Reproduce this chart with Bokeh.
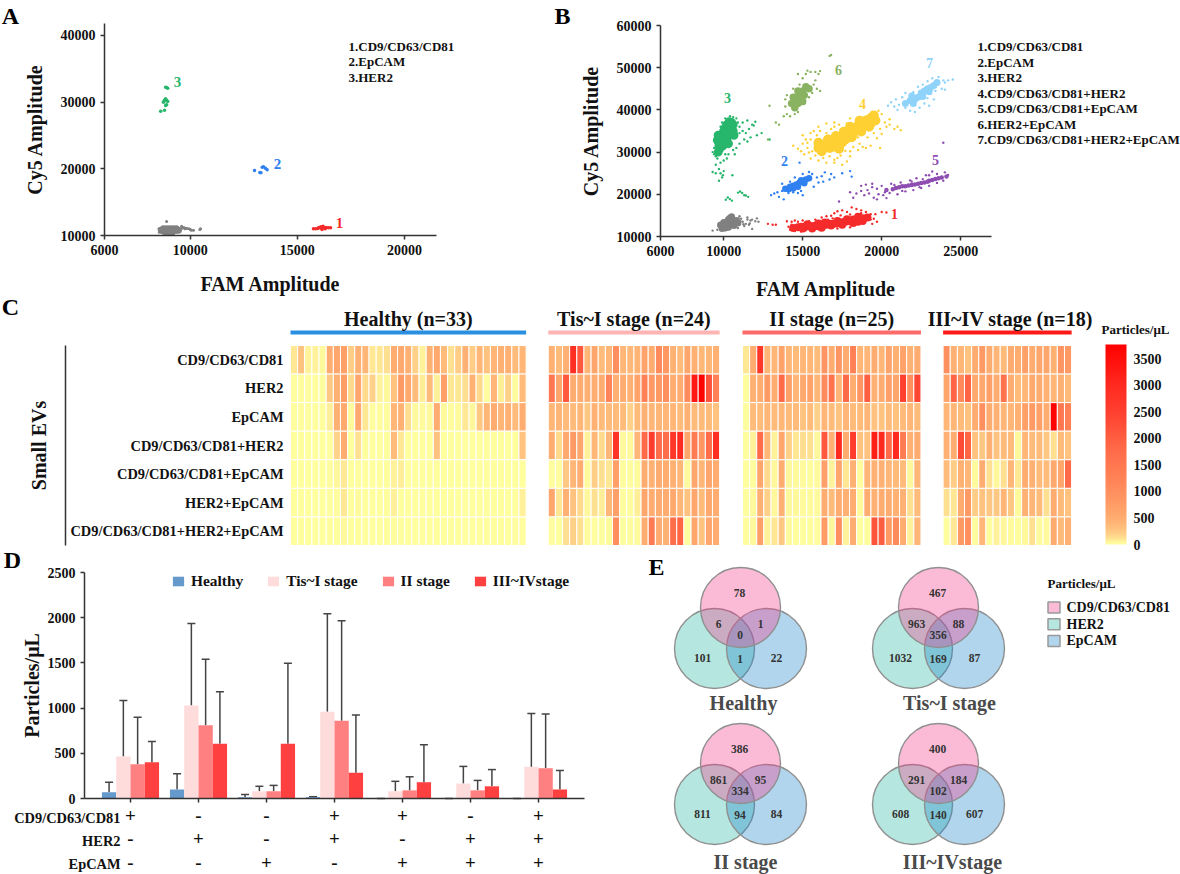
import math
from bokeh.embed import file_html
from bokeh.resources import INLINE
from bokeh.layouts import column, row
from bokeh.models import (ColumnDataSource, Range1d, FixedTicker, Label, Whisker, TeeHead,
                          LinearColorMapper, ColorBar)
from bokeh.plotting import figure

FONT = "Liberation Serif"

# ---------- Panel A values ----------
a_x_ticks = [6000, 10000, 15000, 20000]
a_y_ticks = [10000, 20000, 30000, 40000]
a_legend = ["1.CD9/CD63/CD81", "2.EpCAM", "3.HER2"]
a_green = [(8620,28650),(8800,28800),(8850,29500),(8900,29600),(8750,30000),(8800,30300),(8850,30500),(8900,30300),(8950,30100),(8800,30200),(8900,32200),(8950,32100),(8850,32250)]
a_blue = [(13000,19750),(13250,19450),(13360,20250),(13510,20100),(13590,19850),(13420,20300),(13300,19400)]
a_red = [(15750,11000),(15850,11000),(15950,11050),(16050,11150),(16100,11300),(16150,10900),(16200,11400),(16250,11150),(16300,11000),(16350,11200),(16450,11150),(16550,11150),(16000,11200),(16150,11100)]
a_gray_core = [(8650,10800),(8750,10700),(8850,10800),(8950,10700),(9050,10800),(9150,10700),(9250,10800),(9350,10800),(9450,10800),(8750,11000),(8900,11000),(9050,11000),(9200,11000),(9350,11000),(8850,10500),(9000,10500),(9150,10500)]
a_gray = [(8900,12100),(9600,11400),(9620,11100),(9700,11200),(9750,11000),(9800,11100),(9850,11050),(9950,11000),(10000,10900),(10050,10800),(10150,10800),(10480,11000),(10450,10900),(8560,10500),(8540,11000)]

# ---------- Panel B values ----------
b_x_ticks = [6000, 10000, 15000, 20000, 25000]
b_y_ticks = [10000, 20000, 30000, 40000, 50000, 60000]
b_legend = ["1.CD9/CD63/CD81", "2.EpCAM", "3.HER2", "4.CD9/CD63/CD81+HER2", "5.CD9/CD63/CD81+EpCAM", "6.HER2+EpCAM", "7.CD9/CD63/CD81+HER2+EpCAM"]
b_gray_core = [(9900,11900),(10000,12500),(10100,13000),(10200,13500),(10300,14000),(10400,14400),(10500,14000),(10600,13500),(10700,13200),(10400,13200),(10200,12500),(10000,13300),(10100,12000),(10500,14700),(10800,13800),(9800,12700),(10650,12600),(10300,12200),(10900,13200)]
b_gray = [(9300,11400),(9600,11600),(9700,12400),(9750,13000),(11000,13000),(11200,13500),(11400,13000),(11500,14500),(11700,13800),(11800,14000),(12000,13600),(12200,13500),(11600,12800),(11100,14200),(11800,11800),(11300,12500),(10900,12000),(11500,14000),(12100,14300),(11000,14800),(11250,12900),(11050,13600),(10950,14300),(11650,13100)]
b_red_core = [(14700,12200),(14900,12300),(15100,12300),(15300,12400),(15500,12400),(15700,12500),(15900,12500),(16100,12600),(16300,12700),(16500,12800),(16700,13000),(16900,13000),(17100,13100),(17300,13200),(17500,13400),(17700,13500),(17900,13600),(18100,13800),(18200,14000),(18500,14200),(18800,14300),(19100,14500),(15300,12900),(16000,13100),(16400,13300),(16800,12600),(17200,13700),(17500,12800),(17800,14100),(18200,13200),(18500,14700),(18800,13700),(14400,12000),(15000,11900),(15600,11900),(16200,12100),(18500,13500)]
b_red = [(12800,13000),(13100,12800),(13300,12800),(14000,13600),(14100,12300),(14200,11600),(14300,13500),(14500,13800),(14700,13500),(15000,13800),(15400,13600),(15800,14000),(16200,14500),(16500,14800),(16800,14900),(17000,15500),(17200,16000),(17500,16200),(17800,15800),(18100,16900),(18400,16500),(18700,16200),(19000,15800),(19300,15300),(19600,15300),(20000,15800),(20300,15700),(19500,14200),(19700,13500),(19400,13000),(14500,11300),(14900,11200),(16000,11700),(17200,11900),(18000,12200),(16900,14300),(17400,15000),(18000,15200),(18700,15500),(19300,14000),(14300,12800),(15200,11500),(15800,13400),(16600,14000)]
b_green_core = [(9650,30000),(9750,30800),(9700,31500),(9800,32000),(9950,31500),(9850,32800),(10000,32500),(9800,33500),(10000,33500),(10200,33000),(9900,34200),(10100,34000),(10300,34000),(10000,35000),(10200,34800),(10400,34500),(10100,35800),(10300,35500),(10500,35200),(10200,36500),(10400,36300),(10500,36000),(10350,37200),(10500,37000),(10600,36500),(10200,34000),(10000,34300),(9600,32800),(9650,34000),(10650,34000),(10600,35000),(10300,32000)]
b_green = [(9300,25300),(9500,25000),(9700,26000),(9800,25000),(9950,24500),(10000,25500),(9900,24000),(9700,23200),(10550,24500),(9500,27000),(9800,27500),(10000,28000),(10200,28500),(9600,28500),(9500,29000),(10300,29500),(10100,29500),(11000,36000),(11200,35000),(11400,34500),(11600,35500),(11800,36500),(12000,37200),(11200,37000),(11500,37500),(11900,36300),(11300,33000),(11500,32500),(11700,33500),(12100,34000),(12400,34500),(12900,33000),(11000,32000),(10800,31000),(10600,30500),(10700,29500),(9400,31000),(9300,30000),(9400,29500),(9500,33000),(9600,34500),(9800,36000),(9900,37000),(10100,38000),(10400,38500),(10600,38300),(10800,38000),(10900,37000),(11000,34500),(10390,18860),(10260,19250),(10520,18500),(10130,18700),(11040,20650),(11170,20300),(10910,20400),(11300,19800),(11550,19400),(11400,19700)]
b_yellow_core = [(16000,31000),(16300,31200),(16500,32000),(16800,32000),(16700,31000),(17000,32800),(17300,33000),(17200,32000),(17500,33800),(17800,34200),(17700,33000),(18000,35000),(18300,35500),(18200,34500),(18500,36200),(18800,36800),(18700,35800),(19000,37500),(19300,38000),(19200,37000),(19500,38700),(16200,30200),(17000,31300),(17500,32300),(17600,34800),(18000,36000),(18600,37400),(16600,33000),(17100,33800),(18100,33500),(18700,34900),(19200,36000),(19600,37500),(17300,30800),(16000,32200)]
b_yellow = [(14400,31500),(14700,30800),(15000,32000),(15200,33000),(15300,31000),(15500,34500),(15700,35000),(15100,29500),(15500,28500),(16000,28000),(16500,27500),(17000,27500),(17500,27000),(17800,27800),(18000,29000),(18500,30500),(19000,31000),(19300,31500),(19900,31000),(20200,37000),(20500,36500),(20800,35500),(21000,36000),(21200,35200),(20000,39000),(20500,37800),(16000,36000),(16500,36800),(17000,37000),(17300,36500),(16800,35500),(15900,34000),(14900,30200),(15400,29900),(16200,29300),(16700,29000),(17400,29200),(18200,31200),(18600,32000),(19100,33500),(19500,34500),(19900,35500),(20300,36000),(15000,34000),(15500,33000),(16500,34500),(17000,36000),(17800,36800),(18000,38000),(19800,39800),(19500,36200),(18500,33500),(18100,32800),(17700,30300),(17200,28600),(15600,30200),(15800,29200),(16300,28600),(17000,28200),(18000,30200),(18800,31200),(19700,33300),(20000,34300),(15300,32200),(16100,35000)]
b_blue_core = [(13900,21300),(14200,21800),(14400,22000),(14100,21200),(14600,22300),(14800,22800),(15000,23000),(15200,23500),(15400,23800),(14700,21800),(15100,22600),(14400,21400),(14900,23300)]
b_blue = [(13000,19800),(13200,20200),(13400,20500),(13500,19400),(13700,20800),(13800,18800),(14100,20300),(14400,20500),(14700,20300),(14900,20800),(15000,19800),(14800,27500),(14200,23000),(14500,24000),(15000,24800),(15400,25300),(15600,24800),(15900,24000),(16000,22800),(16200,24300),(16400,25200),(16700,23500),(16800,24800),(17000,24000),(17500,25000),(18000,25500),(18100,24200),(16300,23000),(13700,22500),(15700,21800)]
b_purple_core = [(20300,21000),(20700,21200),(21100,21700),(21500,21900),(21900,22200),(22300,22500),(22700,22800),(23000,23200),(23400,23600),(23800,24000),(24100,24200),(20900,21500),(21300,21900),(21700,22100),(22100,22300),(22500,22700),(22900,23000),(23200,23400),(23600,23800)]
b_purple = [(17300,18300),(18000,20500),(18400,20200),(18700,20800),(18900,19800),(19100,21000),(19200,20200),(19500,19200),(19700,18800),(19800,20000),(19400,21700),(19400,22500),(20000,22000),(20100,19800),(20300,19100),(20600,22500),(21000,20000),(21200,22800),(21500,20700),(21800,23300),(22000,21000),(22200,23800),(22500,21500),(22800,24500),(23000,22000),(23200,25400),(23500,22700),(24000,25200),(24200,24600),(23900,32200),(18200,19200),(18700,22000),(19000,22300),(20500,20300),(21300,20800),(21900,23000),(22600,23600),(23000,24500),(23500,24800),(23900,23200),(20800,22200),(22400,21700),(19700,21300),(20200,20500)]
b_olive_core = [(14300,41500),(14500,42000),(14600,43000),(14800,43500),(14700,41500),(15000,44500),(15200,45500),(14900,42500),(15100,43500),(14500,40500),(15400,45000),(14400,43000),(14700,44500),(15000,42000)]
b_olive = [(13300,37000),(13500,36500),(12800,33000),(12900,41000),(13800,38500),(14000,39000),(14200,38500),(14500,39000),(14700,39500),(13900,40800),(13900,42500),(14000,43500),(14400,45000),(14800,46000),(15000,47500),(15200,48500),(15300,49300),(15500,49000),(15800,49000),(16000,48500),(15800,47000),(15700,46000),(15900,45000),(16100,44500),(15600,44000),(15400,43000),(15100,41500),(14700,48500),(16800,53000),(16700,52800),(16100,49200)]
b_sky_core = [(21500,41500),(21800,42200),(22100,42500),(22300,43000),(22500,44000),(22700,44500),(22900,45000),(23100,45300),(23300,45800),(23500,46500),(22000,41500),(21900,43300),(22600,43200),(23000,44300)]
b_sky = [(20400,41000),(20600,41800),(20900,42500),(21100,41200),(21300,43000),(21500,40500),(21800,39800),(22100,39500),(22400,40500),(22700,41500),(22900,42800),(23100,43800),(23400,44500),(23800,45000),(24000,46500),(24200,47000),(24500,47200),(21500,44000),(22000,44200),(22300,45500),(22600,46000),(22900,46800),(23200,47500),(23600,47800),(23900,47000),(24000,44800),(20800,40800),(23000,41000),(23300,42500),(21000,40000)]

# ---------- Panel C values ----------
rows_c = ["CD9/CD63/CD81", "HER2", "EpCAM", "CD9/CD63/CD81+HER2", "CD9/CD63/CD81+EpCAM", "HER2+EpCAM", "CD9/CD63/CD81+HER2+EpCAM"]
groups_c = ["Healthy (n=33)", "Tis~I stage (n=24)", "II stage (n=25)", "III~IV stage (n=18)"]
healthy_cells = [
 [100,300,60,60,40,500,600,700,220,450,400,100,100,120,500,550,450,200,60,450,550,350,120,220,450,220,400,300,400,450,450,350,400],
 [20,20,20,20,10,250,450,750,150,600,150,200,60,40,300,800,550,350,80,350,60,700,100,100,130,450,150,20,400,80,200,20,350],
 [10,20,10,10,10,80,450,550,30,550,100,20,20,20,400,450,130,40,30,40,500,30,20,30,100,50,250,400,500,400,450,350,500],
 [0,0,0,0,0,0,180,500,0,120,0,0,0,0,350,100,0,0,0,0,300,0,0,0,0,0,0,0,0,0,0,0,300],
 [5,5,5,5,5,20,50,90,5,20,5,5,5,5,60,80,5,5,5,5,5,5,5,5,5,5,5,5,5,5,5,5,5],
 [5,5,5,5,5,5,20,100,5,30,5,5,5,5,70,5,5,5,5,5,5,5,5,5,5,5,5,5,5,5,5,5,70],
 [0,0,0,0,0,0,5,40,5,0,0,5,0,0,20,20,0,0,0,0,0,0,0,0,0,0,0,0,0,0,0,15,20],
]
tis_cells = [
 [450,350,450,2900,2100,400,600,350,400,1000,400,380,420,650,500,1100,850,450,350,600,450,380,400,450],
 [1500,600,2100,500,500,450,500,500,1200,450,500,450,650,1300,800,800,1000,500,500,1100,3300,3700,2200,1300],
 [400,400,350,350,400,250,450,350,350,350,350,200,350,450,400,400,400,400,350,450,350,350,350,300],
 [500,150,550,800,600,60,400,150,400,2800,40,40,400,1800,2600,1700,1700,2700,3000,600,1400,900,1700,2900],
 [20,20,250,400,500,30,220,120,100,700,20,20,30,500,450,500,500,450,400,30,600,400,600,500],
 [600,100,450,300,150,50,120,80,400,700,10,20,80,600,500,500,500,550,400,300,600,350,550,500],
 [20,0,120,200,120,30,20,10,30,1000,10,10,30,500,1400,500,450,1700,1900,10,600,300,600,500],
]
ii_cells = [
 [100,500,2700,400,400,650,400,350,400,400,350,900,500,900,500,1300,400,400,500,400,650,450,650,450,500],
 [20,450,500,800,500,1800,700,400,550,650,400,1100,1600,400,1800,500,900,2000,450,500,700,600,2500,1000,2400],
 [10,350,350,400,350,400,350,350,300,350,200,400,350,300,400,350,350,400,300,300,350,300,350,400,350],
 [10,60,1800,400,60,600,200,100,130,120,50,2100,450,3000,500,2600,300,300,3200,3000,1800,3000,1400,450,500],
 [0,20,600,150,50,500,50,30,30,20,30,700,60,600,100,450,20,400,450,450,400,350,350,50,400],
 [10,40,450,200,50,450,50,40,30,30,30,500,350,500,450,500,30,500,450,500,500,450,450,120,350],
 [20,40,700,60,100,250,30,20,10,10,20,800,50,1000,60,500,10,20,2200,2000,800,1100,500,60,400],
]
iii_cells = [
 [1000,450,400,300,500,800,500,400,350,500,500,700,500,600,600,450,900,800],
 [600,1900,1100,1900,550,550,700,500,1600,500,350,400,550,500,450,400,450,350],
 [400,400,350,300,500,1000,500,450,400,400,450,700,800,700,500,3700,1500,1300],
 [450,500,2300,1900,300,250,450,300,350,350,50,400,350,350,250,120,350,300],
 [350,220,450,400,30,500,120,50,120,400,100,500,450,350,350,550,600,1800],
 [120,100,500,800,220,300,250,250,400,250,30,450,400,350,120,500,350,300],
 [20,100,800,1000,20,400,20,60,50,30,10,40,120,30,30,500,350,450],
]
cbar_ticks = [0, 500, 1000, 1500, 2000, 2500, 3000, 3500]

# ---------- Panel D values ----------
sign_rows = ["CD9/CD63/CD81", "HER2", "EpCAM"]
cd9_signs = ["+", "-", "-", "+", "+", "-", "+"]
her2_signs = ["-", "+", "-", "+", "-", "+", "+"]
epcam_signs = ["-", "-", "+", "-", "+", "+", "+"]
stages = ["Healthy", "Tis~I stage", "II stage", "III~IVstage"]
healthy_mean = [70, 100, 15, 15, 0, 0, 0]
healthy_top = [180, 275, 45, 20, 0, 0, 0]
tis_mean = [465, 1030, 80, 960, 80, 165, 350]
tis_top = [1085, 1935, 135, 2045, 190, 355, 940]
ii_mean = [380, 810, 80, 860, 90, 90, 335]
ii_top = [900, 1540, 145, 1965, 240, 200, 935]
iii_mean = [400, 605, 605, 285, 180, 135, 100]
iii_top = [630, 1180, 1495, 925, 595, 320, 310]

# ---------- Panel E values ----------
venn_titles = ["Healthy", "Tis~I stage", "II stage", "III~IVstage"]
venn_healthy = [78, 6, 1, 0, 101, 1, 22]
venn_tis = [467, 963, 88, 356, 1032, 169, 87]
venn_ii = [386, 861, 95, 334, 811, 94, 84]
venn_iii = [400, 291, 184, 102, 608, 140, 607]
venn_sets = ["CD9/CD63/CD81", "HER2", "EpCAM"]

# ---------- helpers ----------
def style_axis(ax, size="14px"):
    ax.axis_line_color = "#333333"
    ax.axis_line_width = 1.5
    ax.major_tick_line_color = "#333333"
    ax.major_tick_line_width = 1.5
    ax.major_tick_in = 0
    ax.major_tick_out = 4
    ax.minor_tick_line_color = None
    ax.major_label_text_font = FONT
    ax.major_label_text_font_style = "bold"
    ax.major_label_text_font_size = size
    ax.major_label_text_color = "#111111"
    ax.axis_label_text_font = FONT
    ax.axis_label_text_font_style = "bold"
    ax.axis_label_text_color = "#111111"
    ax.axis_label_text_font_size = "20px"


def bare(fig):
    fig.outline_line_color = None
    fig.grid.visible = False
    fig.background_fill_color = None
    fig.border_fill_color = None


def txt(fig, frame, px, py, s, size=13, color="#111111", align="left", angle=0):
    # frame = (left edge, bottom edge) of the figure in page pixels
    fig.add_layout(Label(x=px - frame[0], y=frame[1] - py, x_units="screen", y_units="screen",
                         text=s, text_font=FONT, text_font_style="bold",
                         text_font_size=f"{size}px", text_color=color, text_align=align,
                         text_baseline="middle", angle=angle))


def dots(fig, pts, color, size):
    fig.scatter([p[0] for p in pts], [p[1] for p in pts], size=size, color=color,
                line_color=None, marker="circle")


NOBORDER = dict(min_border_left=0, min_border_right=0, min_border_top=0, min_border_bottom=0)
RED, BLUE, GREEN, GRAY, YELLOW, PURPLE, OLIVE, SKY = ("#F52B2B", "#2F80F0", "#27B66B", "#808080",
                                                    "#FFD033", "#8E4DB0", "#8AB361", "#8FD3FA")

# ---------- Panel A ----------
ax_l, ax_r, ay_t, ay_b = 104, 436, 23, 235
A_W, A_H = 545, 300
KX_A, KY_A = 0.02143, 0.006667
frame_a = (0, A_H)
pa = figure(width=A_W, height=A_H, output_backend="svg", toolbar_location=None,
            x_range=Range1d(6000 - ax_l / KX_A, 6000 + (A_W - ax_l) / KX_A),
            y_range=Range1d(10000 - (A_H - ay_b) / KY_A, 10000 + ay_b / KY_A), **NOBORDER)
bare(pa)
pa.xaxis.ticker = FixedTicker(ticks=a_x_ticks)
pa.yaxis.ticker = FixedTicker(ticks=a_y_ticks)
style_axis(pa.xaxis[0]); style_axis(pa.yaxis[0])
pa.xaxis.fixed_location = 10000
pa.yaxis.fixed_location = 6000
pa.xaxis.bounds = (6000, 6000 + (ax_r - ax_l) / KX_A)
pa.yaxis.bounds = (10000, 10000 + (ay_b - ay_t) / KY_A)
pa.xaxis.axis_label = "FAM Amplitude"
pa.yaxis.axis_label = "Cy5 Amplitude"
pa.xaxis.major_label_standoff = 5
pa.xaxis.axis_label_standoff = 15
pa.yaxis.axis_label_standoff = 12
dots(pa, a_gray_core, GRAY, 7)
dots(pa, a_gray, GRAY, 3)
dots(pa, a_green, GREEN, 3.5)
dots(pa, a_blue, BLUE, 3.5)
dots(pa, a_red, RED, 3.5)
for i, s in enumerate(a_legend):
    txt(pa, frame_a, 348, 45.5 + 15.5 * i, s)
txt(pa, frame_a, 177, 81, "3", 15, GREEN, "center")
txt(pa, frame_a, 277, 163, "2", 15, BLUE, "center")
txt(pa, frame_a, 339, 222, "1", 15, RED, "center")
txt(pa, frame_a, 10, 15, "A", 24, "#000000", "center")

# ---------- Panel B ----------
bx_l, bx_r, by_t, by_b = 660, 991, 25, 236
B_X, B_W, B_H = 545, 635, 300
KX_B, KY_B = 0.0158, (by_b - by_t) / 50000
frame_b = (B_X, B_H)
pb = figure(width=B_W, height=B_H, output_backend="svg", toolbar_location=None,
            x_range=Range1d(6000 - (bx_l - B_X) / KX_B, 6000 + (B_X + B_W - bx_l) / KX_B),
            y_range=Range1d(10000 - (B_H - by_b) / KY_B, 10000 + by_b / KY_B), **NOBORDER)
bare(pb)
pb.xaxis.ticker = FixedTicker(ticks=b_x_ticks)
pb.yaxis.ticker = FixedTicker(ticks=b_y_ticks)
style_axis(pb.xaxis[0]); style_axis(pb.yaxis[0])
pb.xaxis.fixed_location = 10000
pb.yaxis.fixed_location = 6000
pb.xaxis.bounds = (6000, 6000 + (bx_r - bx_l) / KX_B)
pb.yaxis.bounds = (10000, 60000)
pb.xaxis.axis_label = "FAM Amplitude"
pb.yaxis.axis_label = "Cy5 Amplitude"
pb.xaxis.major_label_standoff = 5
pb.xaxis.axis_label_standoff = 19
pb.yaxis.axis_label_standoff = 12
for core, stray, col, sz in [(b_gray_core, b_gray, GRAY, 7), (b_red_core, b_red, RED, 8),
                             (b_green_core, b_green, GREEN, 9), (b_yellow_core, b_yellow, YELLOW, 10),
                             (b_blue_core, b_blue, BLUE, 6.5), (b_purple_core, b_purple, PURPLE, 4.5),
                             (b_olive_core, b_olive, OLIVE, 7.5), (b_sky_core, b_sky, SKY, 7)]:
    dots(pb, stray, col, 2.4)
    dots(pb, core, col, sz)
for i, s in enumerate(b_legend):
    txt(pb, frame_b, 977, 46 + 15.55 * i, s, 13)
txt(pb, frame_b, 727, 97, "3", 14, GREEN, "center")
txt(pb, frame_b, 784, 160, "2", 14, BLUE, "center")
txt(pb, frame_b, 894, 213, "1", 14, RED, "center")
txt(pb, frame_b, 862, 103, "4", 14, YELLOW, "center")
txt(pb, frame_b, 935, 159, "5", 14, PURPLE, "center")
txt(pb, frame_b, 838, 69, "6", 14, OLIVE, "center")
txt(pb, frame_b, 929, 62, "7", 14, SKY, "center")
txt(pb, frame_b, 562, 15, "B", 24, "#000000", "center")

# ---------- Panel C ----------
CELL = 7.14
ROW = 200 / 7
X0, Y0 = 290, 545
C_TOP, C_BOT = 290, 556
frame_c = (0, C_BOT)
conv_c = lambda px, py: ((px - X0) / CELL, -0.5 + (Y0 - py) / ROW)
pc = figure(width=1180, height=C_BOT - C_TOP, output_backend="svg", toolbar_location=None,
            x_range=Range1d(-X0 / CELL, (1180 - X0) / CELL),
            y_range=Range1d(-0.5 + (Y0 - C_BOT) / ROW, -0.5 + (Y0 - C_TOP) / ROW),
            margin=(C_TOP - A_H, 0, 0, 0), **NOBORDER)
bare(pc)
pc.xaxis.visible = False
anchors = [(0, (255, 255, 158)), (30, (255, 251, 156)), (60, (255, 242, 154)), (120, (255, 223, 144)),
           (220, (255, 204, 133)), (350, (255, 187, 122)), (500, (255, 172, 112)), (800, (255, 154, 101)),
           (1200, (255, 133, 88)), (1800, (255, 106, 72)), (2500, (255, 64, 48)), (3000, (255, 42, 32)),
           (3764, (255, 0, 0))]


def shade(v):
    for (a, ca), (b, cb) in zip(anchors, anchors[1:]):
        if v <= b:
            t = (v - a) / (b - a)
            return "#%02X%02X%02X" % tuple(round(p + (q - p) * t) for p, q in zip(ca, cb))
    return "#FF0000"


palette = [shade(3764 * i / 511) for i in range(512)]
mapper = LinearColorMapper(palette=palette, low=0, high=3764)
offsets = [0, 36.1, 63.3, 91.4]
tables = [healthy_cells, tis_cells, ii_cells, iii_cells]
bar_colors = ["#2A8FE0", "#FFB4B4", "#FF6B6B", "#FF1A1A"]
title_shift = [0, 0, 0, 0.4]
cx, cy, cv = [], [], []
for off, table in zip(offsets, tables):
    for r, vals in enumerate(table):
        for c, v in enumerate(vals):
            cx.append(off + c + 0.5)
            cy.append(6 - r)
            cv.append(v)
pc.rect("x", "y", width=1, height=1, source=ColumnDataSource(dict(x=cx, y=cy, v=cv)),
        fill_color={"field": "v", "transform": mapper}, line_color="#FFFFFF", line_width=1)
head_y = conv_c(0, 332)[1]
title_y = conv_c(0, 318)[1]
for off, table, col, name, sh in zip(offsets, tables, bar_colors, groups_c, title_shift):
    n = len(table[0])
    pc.rect([off + n / 2], [head_y], width=n, height=4 / ROW, color=col, line_color=None)
    pc.text([off + n / 2 + sh], [title_y], text=[name], text_font=FONT, text_font_style="bold",
            text_font_size="20px", text_color="#111111", text_align="center", text_baseline="middle")
pc.yaxis.ticker = FixedTicker(ticks=list(range(7)))
pc.yaxis.major_label_overrides = {6 - i: s for i, s in enumerate(rows_c)}
pc.yaxis.fixed_location = 0
style_axis(pc.yaxis[0], "14.4px")
pc.yaxis.axis_line_color = None
pc.yaxis.major_tick_line_color = None
pc.yaxis.major_tick_out = 0
pc.yaxis.major_label_standoff = 7
xr, _ = conv_c(65, 0)
pc.segment([xr], [-0.5], [xr], [6.5], line_color="#333333", line_width=1.5)
txt(pc, frame_c, 38, 445, "Small EVs", 20, "#111111", "center", math.pi / 2)
txt(pc, frame_c, 1135, 329, "Particles/μL", 13, "#111111", "center")
txt(pc, frame_c, 10, 306, "C", 24, "#000000", "center")
cb = ColorBar(color_mapper=mapper, ticker=FixedTicker(ticks=cbar_ticks), location=(1105, C_BOT - 544),
              width=21, height=200, padding=0, margin=0, background_fill_color=None,
              major_tick_line_color=None, minor_tick_line_color=None, bar_line_color=None,
              border_line_color=None, label_standoff=7, major_label_text_font=FONT,
              major_label_text_font_style="bold", major_label_text_font_size="14px",
              major_label_text_color="#111111")
pc.add_layout(cb)

# ---------- Panel D with its sign table ----------
GROUP = 68
KY_D = 226 / 2500
dx_l, dx_r, dy_b = 84, 584, 798
D_TOP, D_BOT, D_W = 544, 874, 610
frame_d = (0, D_BOT)
conv_d = lambda px, py: ((px - 130) / GROUP, (dy_b - py) / KY_D)
pd_ = figure(width=D_W, height=D_BOT - D_TOP, output_backend="svg", toolbar_location=None,
             x_range=Range1d(-130 / GROUP, (D_W - 130) / GROUP),
             y_range=Range1d((dy_b - D_BOT) / KY_D, (dy_b - D_TOP) / KY_D), **NOBORDER)
bare(pd_)
pd_.xaxis.ticker = FixedTicker(ticks=list(range(7)))
pd_.yaxis.ticker = FixedTicker(ticks=[0, 500, 1000, 1500, 2000, 2500])
style_axis(pd_.xaxis[0]); style_axis(pd_.yaxis[0])
pd_.xaxis.fixed_location = 0
pd_.yaxis.fixed_location = (dx_l - 130) / GROUP
pd_.xaxis.bounds = ((dx_l - 130) / GROUP, (dx_r - 130) / GROUP)
pd_.yaxis.bounds = (0, 2500)
pd_.xaxis.major_label_overrides = {i: "" for i in range(7)}
pd_.xaxis.major_label_standoff = 0
pd_.xaxis.major_label_text_font_size = "1px"
pd_.yaxis.axis_label = "Particles/μL"
pd_.yaxis.axis_label_standoff = 2
series = [(healthy_mean, healthy_top, "#6699CC", -0.315), (tis_mean, tis_top, "#FFDCDC", -0.105),
          (ii_mean, ii_top, "#FF8080", 0.105), (iii_mean, iii_top, "#FF4040", 0.315)]
for (mean, top, col, shift), name in zip(series, stages):
    src = ColumnDataSource(dict(x=[i + shift for i in range(7)], mean=mean, top=top))
    pd_.vbar(x="x", top="mean", bottom=0, width=0.21, source=src, color=col, line_color=None,
             legend_label=name)
    pd_.add_layout(Whisker(base="x", upper="top", lower="mean", source=src,
                           upper_head=TeeHead(size=8, line_color="#444444", line_width=1.5),
                           lower_head=None, line_color="#444444", line_width=1.5))
lg = pd_.legend[0]
lg.orientation = "horizontal"
lg.location = (171, 284)
lg.padding = 0
lg.margin = 0
lg.spacing = 23
lg.label_standoff = 6
lg.glyph_width = 14
lg.glyph_height = 12
lg.background_fill_alpha = 0
lg.border_line_color = None
lg.label_text_font = FONT
lg.label_text_font_style = "bold"
lg.label_text_font_size = "15.4px"
lg.label_text_color = "#111111"
txt(pd_, frame_d, 12, 559, "D", 24, "#000000", "center")
for level_y, label_y, name, signs in zip([815, 838, 862], [817, 840, 863], sign_rows,
                                         [cd9_signs, her2_signs, epcam_signs]):
    pd_.text(list(range(7)), [conv_d(0, level_y)[1]] * 7, text=signs, text_font=FONT, text_font_style="bold",
             text_font_size="19px", text_color="#111111", text_align="center", text_baseline="middle")
    txt(pd_, frame_d, 120, label_y, name, 14.4, "#111111", "right")

# ---------- Panel E ----------
pe = figure(width=570, height=D_BOT - D_TOP, output_backend="svg", toolbar_location=None,
            x_range=Range1d(610, 1180), y_range=Range1d(874, D_TOP), **NOBORDER)
bare(pe)
pe.axis.visible = False
centers = [(740, 607), (938, 607), (740, 763), (938, 763)]
title_pos = [(743, 702), (949, 702), (745, 861), (952, 861)]
offs_x = [-1, -22, 20, -0.5, -38, -0.5, 36]
offs_y = [-15, 16, 16, 27, 50, 51, 50]
C_PINK, C_GREEN, C_BLUE = "#F33C8C", "#2BB7A3", "#1D87C8"
for (cxx, cyy), vals, tt, tp in zip(centers, [venn_healthy, venn_tis, venn_ii, venn_iii], venn_titles, title_pos):
    for dx, dy, col in [(-26, 41, C_GREEN), (26, 41, C_BLUE), (0, 0, C_PINK)]:
        pe.circle([cxx + dx], [cyy + dy], radius=40, fill_color=col, fill_alpha=0.35,
                  line_color="#909090", line_width=1.4)
    pe.text([cxx + a for a in offs_x], [cyy + b for b in offs_y], text=[str(v) for v in vals],
            text_font=FONT, text_font_style="bold", text_font_size="11.5px", text_color="#333333",
            text_align="center", text_baseline="middle")
    pe.text([tp[0]], [tp[1]], text=[tt], text_font=FONT, text_font_style="bold", text_font_size="20px",
            text_color="#4A4A4A", text_align="center", text_baseline="middle")
for i, (s, col) in enumerate(zip(venn_sets, [C_PINK, C_GREEN, C_BLUE])):
    y = 607 + 16.7 * i
    pe.rect([1053.5], [y], width=12, height=11, fill_color=col, fill_alpha=0.35, line_color="#999999", line_width=1.5)
    pe.text([1066], [y], text=[s], text_font=FONT, text_font_style="bold", text_font_size="14px",
            text_color="#111111", text_align="left", text_baseline="middle")
pe.text([1047], [583], text=["Particles/μL"], text_font=FONT, text_font_style="bold", text_font_size="13px",
        text_color="#111111", text_align="left", text_baseline="middle")
pe.text([656], [566], text=["E"], text_font=FONT, text_font_style="bold", text_font_size="24px",
        text_color="#000000", text_align="center", text_baseline="middle")

layout = column(row(pa, pb, spacing=0), pc, row(pd_, pe, spacing=0, margin=(D_TOP - C_BOT, 0, 0, 0)), spacing=0)
open("out.html", "w").write(file_html(layout, INLINE))
